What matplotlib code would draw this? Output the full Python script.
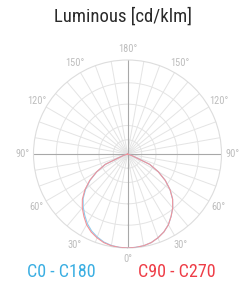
import matplotlib.pyplot as plt
import numpy as np
from matplotlib import font_manager

# gamma angles (deg from nadir) and intensities [cd/klm]
gamma = [0, 5, 10, 15, 20, 25, 30, 35, 40, 45, 50, 55, 60, 65, 70, 75, 80, 90, 180]
c0 = [330, 329, 327, 322, 313, 302, 287, 267, 247, 224, 195, 162, 125, 86, 16, 0, 0, 0, 0]
c180 = [330, 329, 326, 320, 310, 298, 282, 262, 242, 220, 192, 160, 124, 86, 16, 0, 0, 0, 0]
c90 = [330, 329, 327, 322, 313, 302, 287, 267, 247, 224, 195, 162, 125, 86, 16, 0, 0, 0, 0]
c270 = [330, 329, 327, 322, 313, 302, 287, 267, 247, 224, 195, 162, 125, 86, 16, 0, 0, 0, 0]

rings = [50, 100, 175, 250]
rmax = 330
label_angles = [0, 30, 60, 90, 120, 150, 180]

names = {f.name for f in font_manager.fontManager.ttflist}
font = [n for n in ['DejaVu Sans Condensed', 'Liberation Sans Narrow', 'Roboto Condensed', 'Roboto']
        if n in names] + ['DejaVu Sans']
blue = '#3aaee2'
red = '#ee3d47'

fig = plt.figure(figsize=(2.41, 2.85), dpi=100)
ax = fig.add_axes([33.5 / 241, 37 / 285, 188 / 241, 188 / 285], projection='polar')
ax.set_theta_zero_location('S')
ax.set_ylim(0, rmax)
ax.set_xticks([])
ax.set_yticks([])
ax.grid(False)
ax.spines['polar'].set_color('#dddddd')
ax.spines['polar'].set_linewidth(0.8)

# rings
t = np.linspace(0, 2 * np.pi, 361)
for r in rings:
    ax.plot(t, np.full_like(t, r), color='#e4e4e4', lw=0.7, zorder=1)
# radial lines every 10 deg
for a in range(0, 360, 10):
    main = a % 90 == 0
    ax.plot([np.radians(a)] * 2, [0, rmax], color='#a8a8a8' if main else '#e4e4e4',
            lw=0.8 if main else 0.7, zorder=2 if main else 1)

g = np.radians(gamma)


def curve(right, left):
    th = np.concatenate([-g[::-1], g[1:]])
    rr = np.concatenate([np.array(left)[::-1], np.array(right)[1:]])
    return th, rr


th, rr = curve(c0, c180)
ax.plot(th, rr, color='#8ccff0', lw=0.8, zorder=3)
th, rr = curve(c90, c270)
ax.plot(th, rr, color='#f2939a', lw=0.8, zorder=4)

# angle labels on both sides
for a in label_angles:
    for s in ([1] if a in (0, 180) else [1, -1]):
        ax.text(np.radians(a * s), rmax * 1.12, f'{a}°', ha='center', va='center',
                fontsize=7.5, color='#bdbdbd', family=font, clip_on=False)

fig.text(122.5 / 241, 1 - 17 / 285, 'Luminous [cd/klm]', ha='center', va='center',
         fontsize=13.5, color='#2a2a2a', family=font)
fig.text(61 / 241, 1 - 272 / 285, 'C0 - C180', ha='center', va='center',
         fontsize=13, color=blue, family=font)
fig.text(177 / 241, 1 - 272 / 285, 'C90 - C270', ha='center', va='center',
         fontsize=13, color=red, family=font)

fig.savefig('out.png', dpi=100)
